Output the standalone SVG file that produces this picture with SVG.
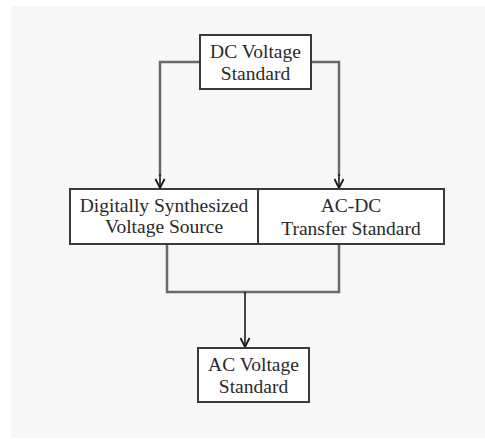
<svg xmlns="http://www.w3.org/2000/svg" width="485" height="439" viewBox="0 0 485 439">
<defs>
<style>
.box{fill:#fff;stroke:#3a3a3a;stroke-width:2}
.t{font-family:"Liberation Serif","Times New Roman",serif;font-size:19.5px;fill:#2a2a2a;text-anchor:middle}
.c{fill:none;stroke:#6a6a6a;stroke-width:2.5}
.a{fill:none;stroke:#1a1a1a;stroke-width:1.6}
</style>
<marker id="v" markerWidth="12" markerHeight="12" refX="11" refY="6" orient="auto" markerUnits="userSpaceOnUse" viewBox="0 0 12 12">
<path d="M2,1.5 L11,6 L2,10.5" fill="none" stroke="#1a1a1a" stroke-width="1.8"/>
</marker>
</defs>
<rect x="0" y="0" width="485" height="439" fill="#fff"/>
<rect x="11" y="6" width="474" height="432" fill="#f7f7f7"/>
<g id="connectors">
<path class="c" d="M200,62 H160 V176"/>
<path class="a" d="M160,174 V188" marker-end="url(#v)"/>
<path class="c" d="M311,62 H339 V176"/>
<path class="a" d="M339,174 V188" marker-end="url(#v)"/>
<path class="c" d="M167,244 V292 H339 V244"/>
<path class="a" d="M245,292 V347" marker-end="url(#v)"/>
</g>
<g id="dc-voltage-standard">
<rect class="box" x="200" y="35" width="111" height="54"/>
<text class="t" x="255.5" y="58">DC Voltage</text>
<text class="t" x="255.5" y="80">Standard</text>
</g>
<g id="digitally-synthesized">
<rect class="box" x="70" y="189" width="188" height="55"/>
<text class="t" x="164" y="212">Digitally Synthesized</text>
<text class="t" x="164" y="233">Voltage Source</text>
</g>
<g id="ac-dc-transfer">
<rect class="box" x="258" y="189" width="186" height="55"/>
<text class="t" x="351" y="212">AC-DC</text>
<text class="t" x="351" y="235">Transfer Standard</text>
</g>
<g id="ac-voltage-standard">
<rect class="box" x="198" y="348" width="111" height="54"/>
<text class="t" x="253.5" y="371">AC Voltage</text>
<text class="t" x="253.5" y="393">Standard</text>
</g>
</svg>
